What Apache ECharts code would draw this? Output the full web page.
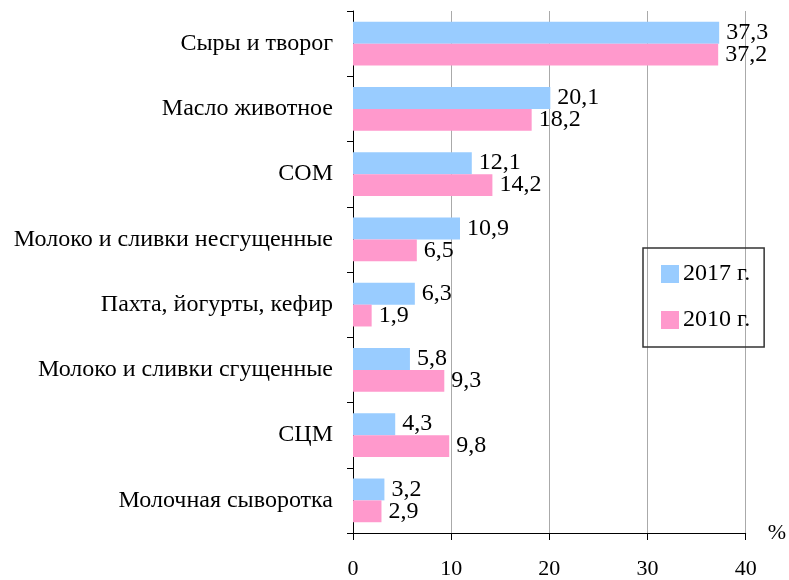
<!DOCTYPE html>
<html><head><meta charset="utf-8">
<script src="https://cdn.jsdelivr.net/npm/echarts@6/dist/echarts.min.js"></script>
<style>html,body{margin:0;padding:0;background:#fff}#c{width:789px;height:580px}</style>
</head><body><div id="c"></div>
<script>
const categories = ['Сыры и творог','Масло животное','СОМ','Молоко и сливки несгущенные','Пахта, йогурты, кефир','Молоко и сливки сгущенные','СЦМ','Молочная сыворотка'];
const values2017 = [37.3, 20.1, 12.1, 10.9, 6.3, 5.8, 4.3, 3.2];
const values2010 = [37.2, 18.2, 14.2, 6.5, 1.9, 9.3, 9.8, 2.9];
const xTicks = [0, 10, 20, 30, 40];

const font = '"Liberation Serif", "Times New Roman", serif';
const chart = echarts.init(document.getElementById('c'), null, {renderer:'canvas'});
const lbl = {show:true, position:'right', distance:7, color:'#000', fontFamily:font, fontSize:24,
  formatter: p => String(p.value).replace('.', ',')};
chart.setOption({
  animation:false,
  textStyle:{fontFamily:font},
  grid:{left:353, right:43, top:11, bottom:46, containLabel:false},
  legend:{
    data:['2017 г.','2010 г.'], orient:'vertical', left:643, top:248,
    borderColor:'#333', borderWidth:1.5, padding:[14,14,15,18], itemGap:22,
    itemWidth:18, itemHeight:18, icon:'rect',
    textStyle:{fontFamily:font, fontSize:24, color:'#000', padding:[0,0,0,-1]}
  },
  xAxis:{type:'value', min:xTicks[0], max:xTicks[xTicks.length-1], interval:10,
    axisLine:{show:true, lineStyle:{color:'#000', width:1}},
    axisTick:{show:true, length:7, lineStyle:{color:'#000'}},
    axisLabel:{color:'#000', fontFamily:font, fontSize:22, margin:25},
    splitLine:{show:true, lineStyle:{color:'#aaa', width:1}},
    name:'%', nameLocation:'end', nameGap:0,
    nameTextStyle:{color:'#000', fontFamily:font, fontSize:22, align:'left', verticalAlign:'middle', padding:[0,0,0,22]}
  },
  yAxis:{type:'category', data:categories, inverse:true,
    axisLine:{show:true, lineStyle:{color:'#000', width:1}},
    axisTick:{show:true, length:6, lineStyle:{color:'#000'}},
    axisLabel:{color:'#000', fontFamily:font, fontSize:24, margin:20}
  },
  series:[
    {name:'2017 г.', type:'bar', data:values2017, barGap:'0%', barCategoryGap:'33%', itemStyle:{color:'#99ccff'}, label:lbl},
    {name:'2010 г.', type:'bar', data:values2010, barGap:'0%', barCategoryGap:'33%', itemStyle:{color:'#ff99cc'}, label:lbl}
  ]
});
</script></body></html>
